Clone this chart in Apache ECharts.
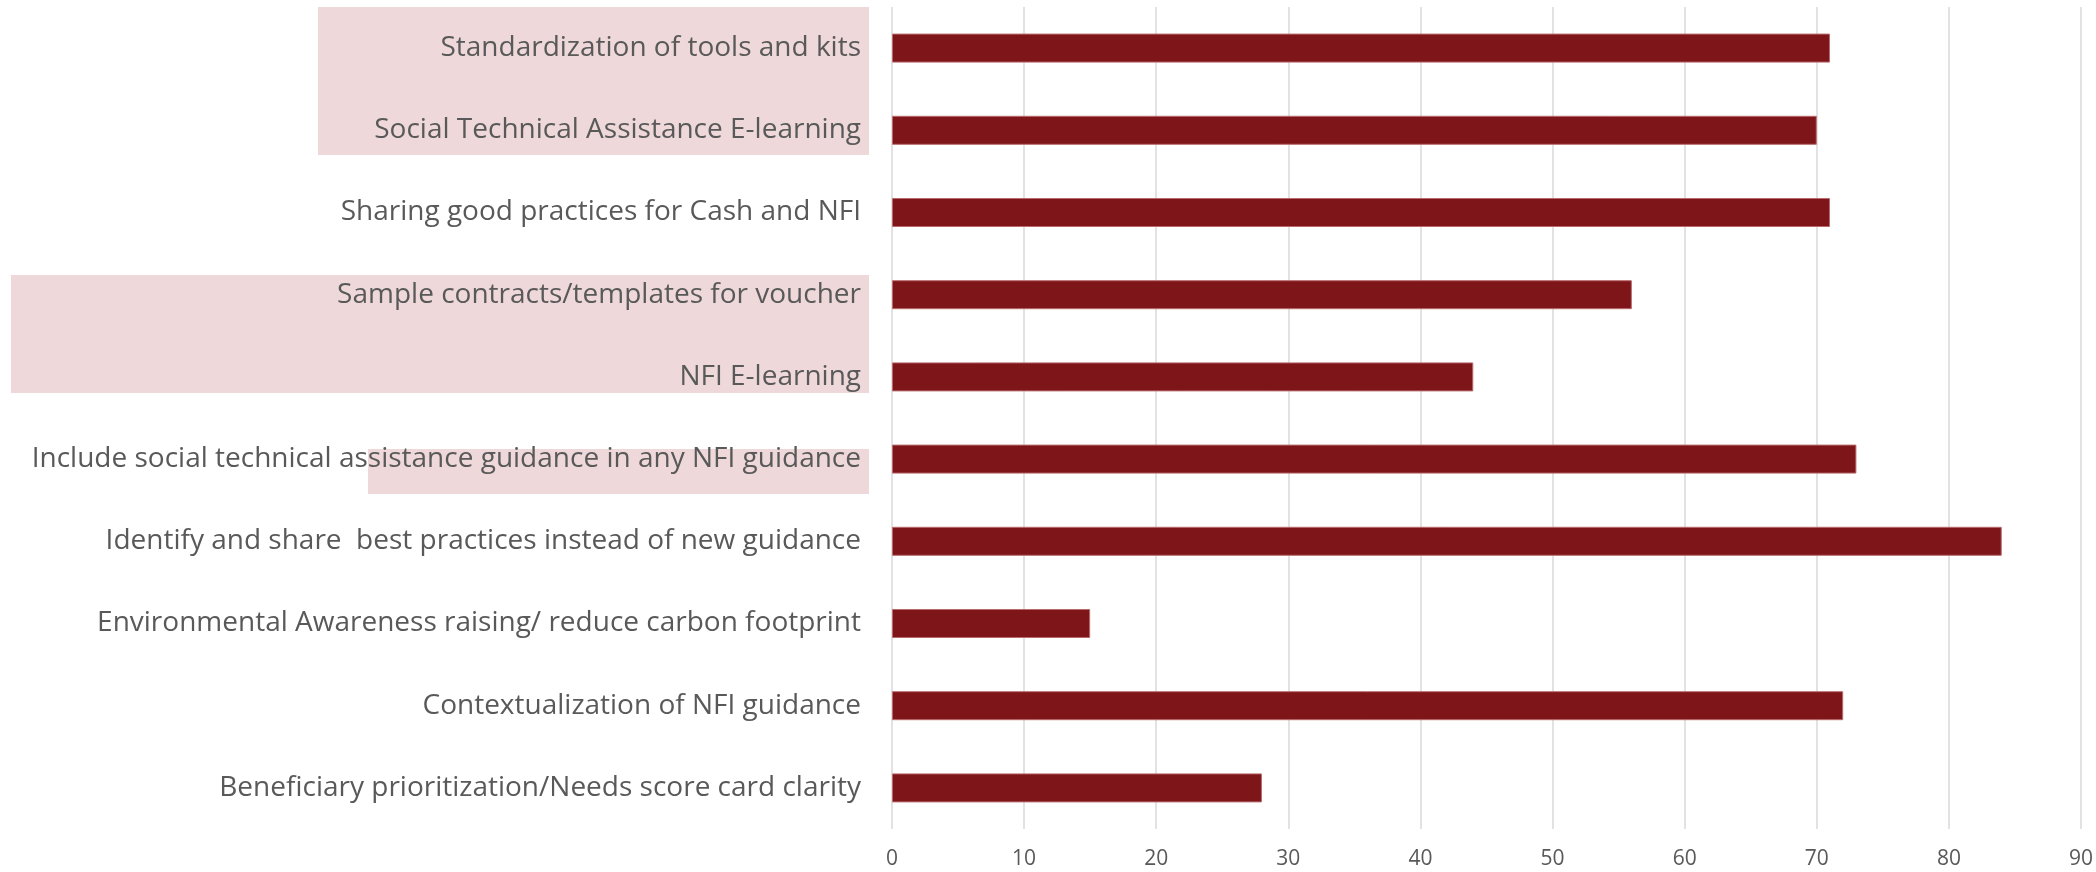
<!DOCTYPE html>
<html>
<head>
<meta charset="utf-8">
<script src="https://cdn.jsdelivr.net/npm/echarts@6/dist/echarts.min.js"></script>
<style>
html,body{margin:0;padding:0;background:#fff;}
#chart{width:2096px;height:872px;}
</style>
</head>
<body>
<div id="chart"></div>
<script>
// Categories listed top to bottom
const categories = [
  "Standardization of tools and kits",
  "Social Technical Assistance E-learning",
  "Sharing good practices for Cash and NFI",
  "Sample contracts/templates for voucher",
  "NFI E-learning",
  "Include social technical assistance guidance in any NFI guidance",
  "Identify and share  best practices instead of new guidance",
  "Environmental Awareness raising/ reduce carbon footprint",
  "Contextualization of NFI guidance",
  "Beneficiary prioritization/Needs score card clarity"
];
const values = [71, 70, 71, 56, 44, 73, 84, 15, 72, 28];
const xTicks = [0, 10, 20, 30, 40, 50, 60, 70, 80, 90];

const chart = echarts.init(document.getElementById('chart'), null, {renderer: 'canvas'});
const hl = '#eed8d9';
chart.setOption({
  animation: false,
  backgroundColor: '#ffffff',
  grid: {left: 892, right: 12, top: 7, bottom: 43, containLabel: false},
  xAxis: {
    type: 'value',
    min: xTicks[0],
    max: xTicks[xTicks.length - 1],
    interval: xTicks[1] - xTicks[0],
    axisLine: {show: false},
    axisTick: {show: false},
    splitLine: {show: true, lineStyle: {color: '#d9d9d9', width: 1.5}},
    axisLabel: {color: '#595959', fontFamily: 'Open Sans', fontSize: 21, margin: 20}
  },
  yAxis: {
    type: 'category',
    inverse: true,
    data: categories,
    axisLine: {show: false},
    axisTick: {show: false},
    splitLine: {show: false},
    axisLabel: {color: '#595959', fontFamily: 'Open Sans', fontSize: 28, margin: 31}
  },
  graphic: [
    {type: 'rect', z: -10, silent: true, shape: {x: 318, y: 7, width: 551, height: 148}, style: {fill: hl}},
    {type: 'rect', z: -10, silent: true, shape: {x: 11, y: 275, width: 858, height: 118}, style: {fill: hl}},
    {type: 'rect', z: -10, silent: true, shape: {x: 368, y: 449, width: 501, height: 45}, style: {fill: hl}}
  ],
  series: [{
    type: 'bar',
    data: values,
    barWidth: 29,
    itemStyle: {color: '#7e1518', borderColor: '#b86a6d', borderWidth: 1}
  }]
});
</script>
</body>
</html>
